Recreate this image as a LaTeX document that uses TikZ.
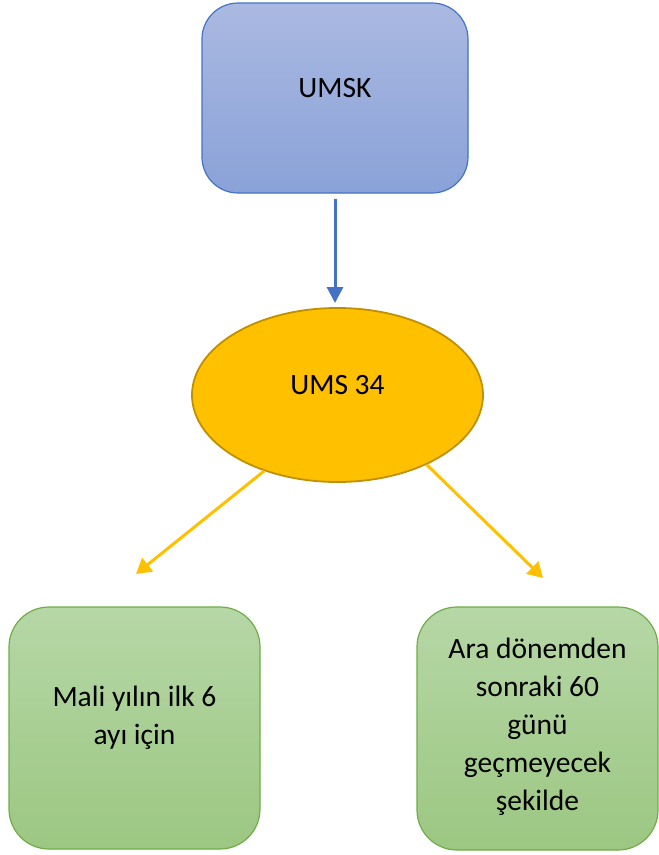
\documentclass[tikz,border=0pt]{standalone}
\usepackage{fontspec}
\setmainfont{Carlito}
\usetikzlibrary{shapes.geometric,arrows.meta}
\definecolor{boxblue}{HTML}{4472C4}
\definecolor{bluetop}{HTML}{AAB9E1}
\definecolor{bluebot}{HTML}{8AA2D8}
\definecolor{gold}{HTML}{FFC000}
\definecolor{golddark}{HTML}{BF9000}
\definecolor{greenline}{HTML}{70AD47}
\definecolor{greentop}{HTML}{B6D7A6}
\definecolor{greenbot}{HTML}{9CC782}
\tikzset{
  bluebox/.style={rectangle, rounded corners=36pt, draw=boxblue, line width=1.2pt,
    top color=bluetop, bottom color=bluebot, inner sep=0pt},
  greenbox/.style={rectangle, rounded corners=40pt, draw=greenline, line width=1.2pt,
    top color=greentop, bottom color=greenbot, inner sep=0pt},
  oval/.style={ellipse, draw=golddark, line width=1.8pt, fill=gold, inner sep=0pt},
  label text/.style={font=\fontsize{29.5}{38}\selectfont, text=black, align=center, inner sep=0pt},
  bluearrow/.style={draw=boxblue, line width=3pt, -{Triangle[length=16pt,width=16pt]}},
  goldarrow/.style={draw=gold, line width=3pt, -{Triangle[length=15pt,width=17pt]}},
}
\begin{document}
\begin{tikzpicture}[x=1pt,y=-1pt]
  \useasboundingbox (0,0) rectangle (659,855);

  % top box
  \node[bluebox, minimum width=266pt, minimum height=190pt] (umsk) at (335,98) {};
  \node[label text] (umsktext) at (335,88) {UMSK};

  % ellipse
  \node[oval, minimum width=291pt, minimum height=174pt] (ums) at (337.5,395) {};
  \node[label text] (umstext) at (337.5,385) {UMS 34};

  % bottom boxes
  \node[greenbox, minimum width=251pt, minimum height=242pt] (left) at (134.5,728) {};
  \node[label text] (lefttext) at (134.5,718) {Mali yılın ilk 6\\ayı için};
  \node[greenbox, minimum width=241pt, minimum height=243pt] (right) at (537.5,728.5) {};
  \node[label text] (righttext) at (537.5,727) {Ara dönemden\\sonraki 60\\günü\\geçmeyecek\\şekilde};

  % arrow tips
  \coordinate (tipB) at (335,303);
  \coordinate (tipL) at (136,574);
  \coordinate (tipR) at (543,578);

  % connectors
  \draw[bluearrow, shorten <=5pt] (umsk) -- (tipB);
  \draw[goldarrow] (ums.226) -- (tipL);
  \draw[goldarrow] (ums.-38) -- (tipR);
\end{tikzpicture}
\end{document}
